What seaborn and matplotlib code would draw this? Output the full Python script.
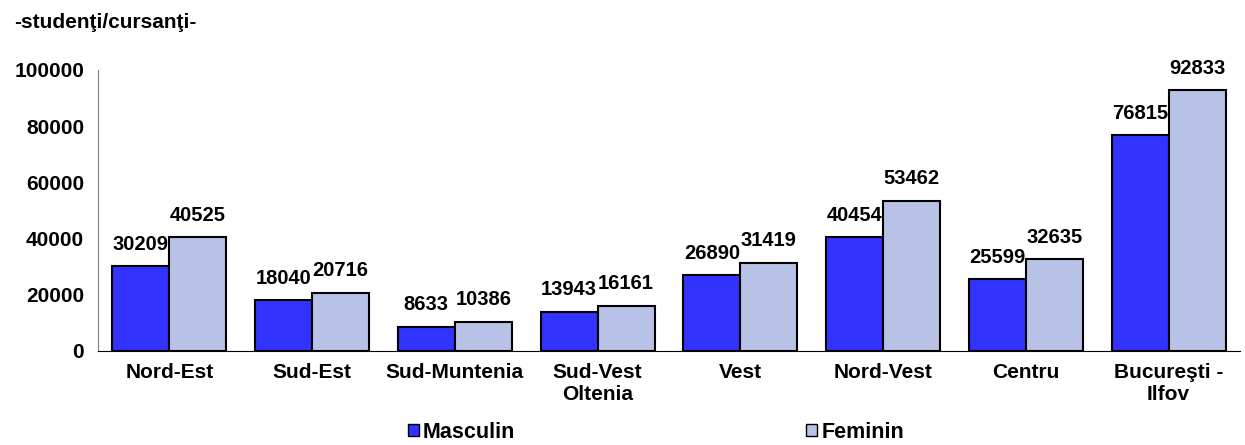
import pandas as pd
import matplotlib
matplotlib.use("Agg")
import matplotlib.pyplot as plt
import seaborn as sns

regions = ["Nord-Est", "Sud-Est", "Sud-Muntenia", "Sud-Vest\nOltenia", "Vest",
           "Nord-Vest", "Centru", "Bucureşti -\nIlfov"]
masculin = [30209, 18040, 8633, 13943, 26890, 40454, 25599, 76815]
feminin = [40525, 20716, 10386, 16161, 31419, 53462, 32635, 92833]
series = ["Masculin", "Feminin"]
colors = ["#3333FF", "#B8C2E6"]

df = pd.DataFrame({
    "Regiune": regions * 2,
    "Sex": [series[0]] * len(regions) + [series[1]] * len(regions),
    "Valoare": masculin + feminin,
})

sns.set_style("white")
plt.rcParams["font.family"] = ["Liberation Sans", "DejaVu Sans"]
plt.rcParams["font.weight"] = "bold"
plt.rcParams["text.color"] = "black"
plt.rcParams["xtick.color"] = "black"
plt.rcParams["ytick.color"] = "black"

fig = plt.figure(figsize=(12.45, 4.45), dpi=100)
ax = fig.add_axes([98 / 1245, 1 - 351 / 445, (1240 - 98) / 1245, (351 - 70) / 445])

sns.barplot(data=df, x="Regiune", y="Valoare", hue="Sex", palette=colors,
            saturation=1, width=0.8, edgecolor="black", linewidth=1.5, ax=ax,
            legend=False)

for cont in ax.containers:
    ax.bar_label(cont, fmt="%d", padding=9, fontsize=14.5, fontweight="bold",
                 color="black")

ax.set_ylim(0, 100000)
ax.set_yticks(range(0, 100001, 20000))
ax.set_xlim(-0.5, 7.42)
ax.set_xlabel("")
ax.set_ylabel("")

# category boundary ticks, labels at the centres
ax.set_xticks([i - 0.5 for i in range(len(regions))] + [7.5])
ax.set_xticklabels([])
ax.set_xticks(range(len(regions)), minor=True)
ax.set_xticklabels(regions, minor=True, fontsize=15, fontweight="bold")
ax.tick_params(axis="x", which="major", direction="out", length=6, width=1, color="black")
ax.tick_params(axis="x", which="minor", length=0, pad=9)
ax.tick_params(axis="y", direction="out", length=6, width=1, color="#808080",
               labelsize=15, pad=4)
for t in ax.get_yticklabels():
    t.set_fontweight("bold")

sns.despine(ax=ax)
ax.spines["left"].set_color("#808080")
ax.spines["bottom"].set_color("black")

fig.text(14 / 1245, 1 - 23 / 445, "-studenţi/cursanţi-", fontsize=15,
         fontweight="bold", va="center")

handles = [plt.Rectangle((0, 0), 1, 1, facecolor=c, edgecolor="black", linewidth=1)
           for c in colors]
fig.legend(handles, series, loc="center", bbox_to_anchor=(656 / 1245, 1 - 432 / 445),
           ncol=2, frameon=False, prop={"weight": "bold", "size": 15.5},
           handlelength=0.5, handleheight=0.5, handletextpad=0.2, columnspacing=13.5,
           borderpad=0)

fig.savefig("out.png", dpi=100)
